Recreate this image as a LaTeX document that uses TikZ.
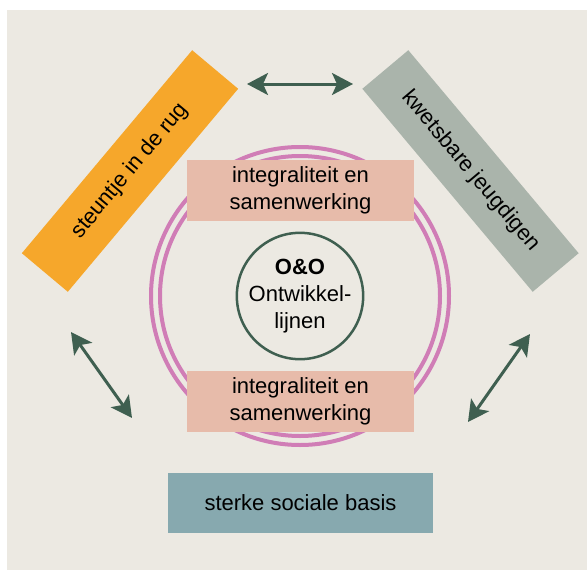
\documentclass[tikz,border=0pt]{standalone}
\usepackage{fontspec}
\setmainfont{Liberation Sans}
\usetikzlibrary{arrows.meta}
\definecolor{achter}{HTML}{ECE9E2}
\definecolor{oranje}{HTML}{F6A72B}
\definecolor{grijs}{HTML}{AAB4AB}
\definecolor{zalm}{HTML}{E7BBAA}
\definecolor{blauw}{HTML}{87A9AF}
\definecolor{roze}{HTML}{D07DB6}
\definecolor{groen}{HTML}{3F5F50}
\begin{document}
\begin{tikzpicture}[x=1pt,y=-1pt,
    tekst/.style={font=\fontsize{22}{27}\selectfont, align=center, inner sep=0pt},
    balk/.style={tekst, minimum width=265pt, minimum height=60pt},
    vak/.style={tekst, fill=zalm, minimum width=227pt, minimum height=61pt},
    pijl/.style={groen, line width=3pt, {Stealth[length=21pt,width=22pt,inset=5pt]}-{Stealth[length=21pt,width=22pt,inset=5pt]}}]
    \useasboundingbox (0,0) rectangle (587,570);
    \fill[achter] (7,10) rectangle (587,570);
    \foreach \r in {149,140}
    \draw[roze, line width=4pt] (300,296) circle [radius=\r pt];
    \node[balk, fill=oranje, rotate=50] (steun) at (130,171) {steuntje in de rug};
    \node[balk, fill=grijs, rotate=-50] (kwets) at (470.5,171) {kwetsbare jeugdigen};
    \node[vak] (boven) at (300.5,190.5) {integraliteit en\\samenwerking};
    \node[vak] (onder) at (300.5,401.5) {integraliteit en\\samenwerking};
    \node[tekst, fill=blauw, minimum width=265pt, minimum height=60pt] (basis) at (300.5,503) {sterke sociale basis};
    \node[tekst, circle, draw=groen, line width=2.5pt, minimum size=126pt] (oo) at (300,296) {\textbf{O\&O}\\Ontwikkel-\\lijnen};
    \coordinate (a1) at (247,84);
    \coordinate (a2) at (353,84);
    \coordinate (b1) at (71,332);
    \coordinate (b2) at (132,418);
    \coordinate (c1) at (530,334);
    \coordinate (c2) at (468,422);
    \draw[pijl] (a1)--(a2);
    \draw[pijl] (b1)--(b2);
    \draw[pijl] (c1)--(c2);
\end{tikzpicture}
\end{document}
